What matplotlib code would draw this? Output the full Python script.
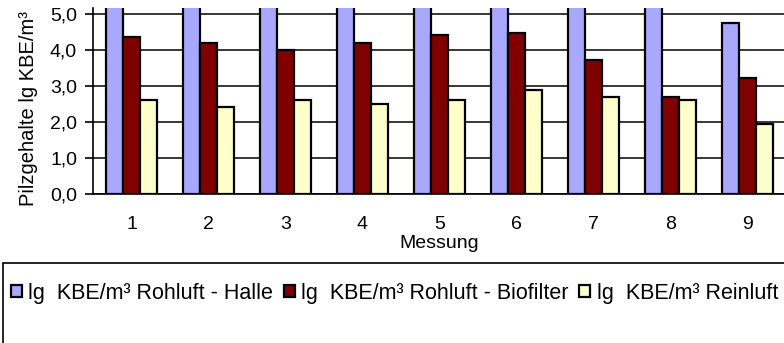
import numpy as np
import matplotlib.pyplot as plt
from matplotlib.patches import Rectangle
plt.switch_backend("agg")

plt.rcParams['font.family'] = ['Liberation Sans', 'DejaVu Sans']

messung = ["1", "2", "3", "4", "5", "6", "7", "8", "9"]
halle = [5.9, 5.8, 5.7, 5.8, 5.9, 6.0, 5.6, 5.5, 4.76]
biofilter = [4.37, 4.20, 4.02, 4.20, 4.44, 4.48, 3.72, 2.70, 3.24]
reinluft = [2.61, 2.43, 2.61, 2.50, 2.61, 2.89, 2.70, 2.61, 1.94]

series = [
    ("lg  KBE/m³ Rohluft - Halle", halle, "#A8A8FF"),
    ("lg  KBE/m³ Rohluft - Biofilter", biofilter, "#800000"),
    ("lg  KBE/m³ Reinluft", reinluft, "#FFFFCC"),
]

fig = plt.figure(figsize=(7.84, 3.43), dpi=100)
ax = fig.add_axes([93/784, 1 - 194/343, 693/784, 186/343])

x = np.arange(1, len(messung) + 1)
w = 0.22
handles = []
for i, (name, vals, col) in enumerate(series):
    b = ax.bar(x + (i - 1) * w, vals, w, color=col, edgecolor="black",
               linewidth=1.6, label=name, zorder=3)
    handles.append(b)

ax.set_xlim(0.5, 9.5)
ax.set_ylim(0, 5.18)
yt = np.arange(0, 5.01, 1.0)
ax.set_yticks(yt)
ax.set_yticklabels([f"{v:.1f}".replace(".", ",") for v in yt])
ax.set_xticks(x)
ax.set_xticklabels(messung)
ax.tick_params(axis="x", length=0, pad=16, labelsize=14)
ax.tick_params(axis="y", length=6, width=1.2, direction="out", pad=5.5, labelsize=14)
ax.grid(axis="y", color="black", linewidth=1.1, zorder=0)
for s in ["top", "right"]:
    ax.spines[s].set_visible(False)
ax.spines["left"].set_linewidth(1.2)
ax.spines["bottom"].set_linewidth(1.2)
ax.set_xlabel("Messung", fontsize=14, labelpad=1)
ax.set_ylabel("Pilzgehalte lg KBE/m³", fontsize=14.5)
ax.yaxis.set_label_coords(-0.079, 0.457)

# legend frame runs off the canvas on the right and bottom
fig.patches.append(Rectangle((3/784, -0.05), 0.999, 1 - 263/343 + 0.05,
                             transform=fig.transFigure, fill=False,
                             edgecolor="black", linewidth=1.2))
fig.legend(handles=handles, loc="center left",
           bbox_to_anchor=(11/784, 1 - 293/343), ncol=3, frameon=False,
           fontsize=15.5, handlelength=0.5, handleheight=0.5,
           handletextpad=0.3, columnspacing=0.5, borderpad=0, borderaxespad=0)

fig.savefig("out.png", dpi=100)
